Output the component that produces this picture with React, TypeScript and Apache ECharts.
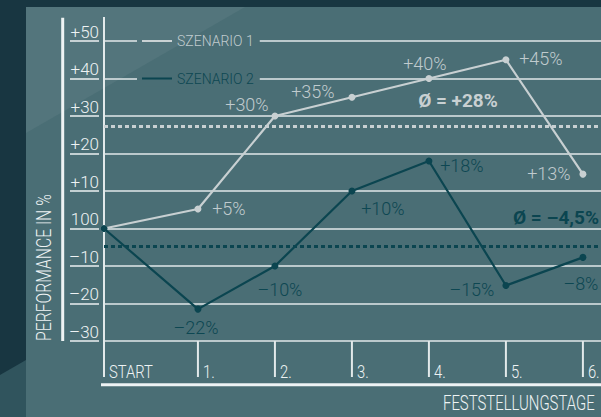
import React, { useEffect, useRef } from "react";
import * as echarts from "echarts";

// ---- data ----
const categories = ["START", "1.", "2.", "3.", "4.", "5.", "6."];
const dayPositions = [0, 1.22, 2.22, 3.22, 4.22, 5.22, 6.22];
const seriesNames = ["SZENARIO 1", "SZENARIO 2"];
const scenario1 = [0, 5.2, 30, 35, 40, 45, 14.5];
const scenario2 = [0, -21.5, -10, 10, 18, -15.2, -7.7];
const scenario1Labels = ["", "+5%", "+30%", "+35%", "+40%", "+45%", "+13%"];
const scenario2Labels = ["", "–22%", "–10%", "+10%", "+18%", "–15%", "–8%"];
const averages = [27.2, -4.8];
const averageLabels = ["Ø = +28%", "Ø = –4,5%"];
const yTickLabels = ["–30", "–20", "–10", "100", "+10", "+20", "+30", "+40", "+50"];
const yAxisTitle = "PERFORMANCE IN %";
const xAxisTitle = "FESTSTELLUNGSTAGE";

// ---- styles ----
const FONT = "Roboto, 'Noto Sans', sans-serif";
const OUTER = "#183641";
const PANEL = "#4a6e75";
const GRIDC = "#e2e9ea";
const TEXTC = "#eef3f4";
const C1 = "#c8d0d2";
const L1 = "#c0cbce";
const C2 = "#0b4550";
const L2 = "#0d4752";

const offsets1: number[][] = [[0, 0], [31, -1], [-28, -12], [-39, -6], [-4, -15], [35, -1], [-34, -1]];
const offsets2: number[][] = [[0, 0], [-2, 18], [5, 23], [31, 17], [33, 4], [-34, 4], [-2, 26]];

function buildSeriesData(values: number[], labels: string[], offs: number[][]) {
  return values.map((v, i) => ({
    value: [dayPositions[i], v],
    label: {
      show: labels[i] !== "",
      formatter: () => labels[i],
      offset: offs[i],
    },
  }));
}

export default function App() {
  const ref = useRef<HTMLDivElement>(null);
  useEffect(() => {
    if (!ref.current) return;
    const chart = echarts.init(ref.current, undefined, { renderer: "svg" });
    const labelFont = { fontSize: 18, fontFamily: FONT, fontWeight: 300 as any };
    const option: any = {
      animation: false,
      backgroundColor: OUTER,
      grid: [
        { left: 104, top: 41, right: 0, height: 300 },
        { left: 70, top: 41, width: 29, height: 300 },
      ],
      xAxis: [
        { gridIndex: 0, type: "value", min: 0, max: 6.455, show: false },
        { gridIndex: 1, type: "value", min: 0, max: 1, show: false },
      ],
      yAxis: [
        {
          gridIndex: 0,
          type: "value",
          min: -30,
          max: 50,
          interval: 10,
          axisLine: { show: true, lineStyle: { color: GRIDC, width: 2 } },
          axisTick: { show: false },
          splitLine: { show: true, lineStyle: { color: GRIDC, width: 1.6 } },
          axisLabel: {
            color: TEXTC,
            fontSize: 17,
            fontFamily: FONT,
            fontWeight: 300,
            margin: 5,
            verticalAlign: "bottom",
            padding: [0, 0, 1, 0],
            formatter: (v: number) => yTickLabels[Math.round((v + 30) / 10)],
          },
        },
        {
          gridIndex: 1,
          type: "value",
          min: -30,
          max: 50,
          interval: 10,
          axisLine: { show: false },
          axisTick: { show: false },
          axisLabel: { show: false },
          splitLine: { show: true, lineStyle: { color: GRIDC, width: 1.6 } },
        },
      ],
      legend: {
        data: [
          { name: seriesNames[0], textStyle: { color: L1 } },
          { name: seriesNames[1], textStyle: { color: L2 } },
        ],
        orient: "vertical",
        left: 137,
        top: 33,
        icon: "rect",
        itemWidth: 30,
        itemHeight: 2,
        itemGap: 21.5,
        padding: [0, 6, 0, 5],
        backgroundColor: PANEL,
        selectedMode: false,
        textStyle: { fontSize: 14, fontFamily: FONT, fontWeight: 300, lineHeight: 16 },
      },
      series: [
        {
          type: "line",
          name: seriesNames[0],
          xAxisIndex: 0,
          yAxisIndex: 0,
          data: buildSeriesData(scenario1, scenario1Labels, offsets1),
          symbol: "circle",
          symbolSize: 7,
          lineStyle: { color: C1, width: 2.2 },
          itemStyle: { color: C1 },
          label: { position: "inside", color: L1, ...labelFont },
          markLine: {
            silent: true,
            symbol: "none",
            label: { show: false },
            lineStyle: { color: C1, width: 3, type: [4, 3] },
            data: [{ yAxis: averages[0] }],
          },
          z: 3,
        },
        {
          type: "line",
          name: seriesNames[1],
          xAxisIndex: 0,
          yAxisIndex: 0,
          data: buildSeriesData(scenario2, scenario2Labels, offsets2),
          symbol: "circle",
          symbolSize: 7,
          lineStyle: { color: C2, width: 2.2 },
          itemStyle: { color: C2 },
          label: { position: "inside", color: L2, ...labelFont },
          markLine: {
            silent: true,
            symbol: "none",
            label: { show: false },
            lineStyle: { color: C2, width: 3, type: [4, 3] },
            data: [{ yAxis: averages[1] }],
          },
          z: 4,
        },
        {
          type: "custom",
          xAxisIndex: 0,
          yAxisIndex: 0,
          silent: true,
          clip: false,
          data: dayPositions.map((x, i) => [x, i]),
          renderItem: (_params: any, api: any) => {
            const idx = api.value(1);
            const p = api.coord([api.value(0), -30]);
            return {
              type: "group",
              children: [
                {
                  type: "line",
                  shape: { x1: p[0], y1: p[1], x2: p[0], y2: p[1] + 36 },
                  style: { stroke: GRIDC, lineWidth: 2 },
                },
                {
                  type: "text",
                  x: p[0] + 5,
                  y: p[1] + 40,
                  scaleX: 0.78,
                  style: {
                    text: categories[idx],
                    fill: TEXTC,
                    fontSize: 19,
                    fontFamily: FONT,
                    fontWeight: 300,
                    align: "left",
                    verticalAlign: "bottom",
                  },
                },
              ],
            };
          },
        },
      ],
      graphic: [
        { type: "rect", z: -10, silent: true, shape: { x: 26, y: 7, width: 575, height: 410 }, style: { fill: PANEL } },
        { type: "polygon", z: -9, silent: true, shape: { points: [[0, 375], [26, 360], [26, 417], [0, 417]] }, style: { fill: "#30545d" } },
        { type: "polygon", z: 100, silent: true, shape: { points: [[26, 7], [245, 7], [26, 133]] }, style: { fill: "rgba(255,255,255,0.05)" } },
        { type: "line", z: 10, silent: true, shape: { x1: 62.7, y1: 17.7, x2: 62.7, y2: 341 }, style: { stroke: TEXTC, lineWidth: 3 } },
        { type: "line", z: 10, silent: true, shape: { x1: 104, y1: 17, x2: 104, y2: 42 }, style: { stroke: GRIDC, lineWidth: 2 } },
        { type: "line", z: 10, silent: true, shape: { x1: 101, y1: 384.7, x2: 601, y2: 384.7 }, style: { stroke: TEXTC, lineWidth: 3 } },
        {
          type: "text", z: 10, silent: true, x: 44, y: 341, rotation: Math.PI / 2, scaleX: 0.75,
          style: { text: yAxisTitle, fill: TEXTC, fontSize: 21, fontFamily: FONT, fontWeight: 300, align: "left", verticalAlign: "middle" },
        },
        {
          type: "text", z: 10, silent: true, x: 443, y: 403, scaleX: 0.71,
          style: { text: xAxisTitle, fill: TEXTC, fontSize: 21, fontFamily: FONT, fontWeight: 300, align: "left", verticalAlign: "middle" },
        },
        {
          type: "text", z: 10, silent: true, x: 458, y: 100,
          style: { text: averageLabels[0], fill: C1, fontSize: 19, fontFamily: FONT, fontWeight: "bold", align: "center", verticalAlign: "middle" },
        },
        {
          type: "text", z: 10, silent: true, x: 513, y: 217,
          style: { text: averageLabels[1], fill: C2, fontSize: 19, fontFamily: FONT, fontWeight: "bold", align: "left", verticalAlign: "middle" },
        },
      ],
    };
    chart.setOption(option);
    return () => chart.dispose();
  }, []);
  return <div ref={ref} style={{ position: "absolute", left: 0, top: 0, width: 601, height: 417 }} />;
}
